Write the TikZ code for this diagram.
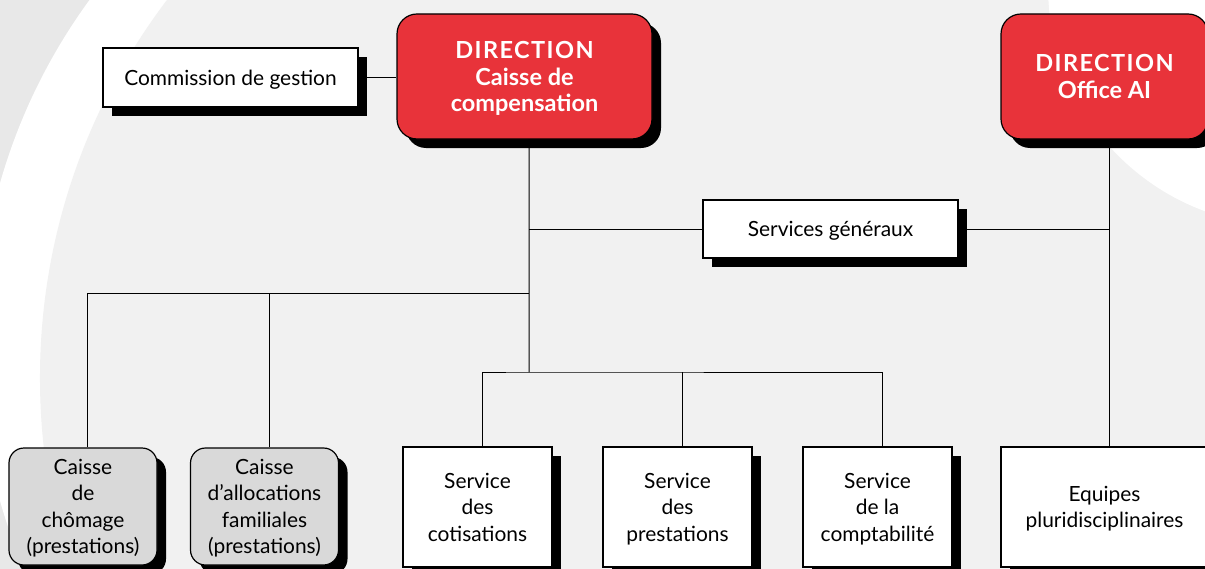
\documentclass[tikz,border=0pt]{standalone}
\usepackage{fontspec}
\setmainfont{Lato}
\usetikzlibrary{shadows}
\definecolor{dirred}{HTML}{E8333A}
\definecolor{bglight}{HTML}{F1F1F1}
\definecolor{bgdark}{HTML}{E8E8E8}
\definecolor{caissegray}{HTML}{D9D9D9}
\tikzset{
  orgnode/.style = {align=center, inner sep=0pt, text centered, text depth=0pt,
    font=\fontsize{10.5}{13.3}\selectfont, draw=black, line width=0.6pt,
    drop shadow={shadow xshift=4.5bp, shadow yshift=-4.5bp, fill=black, opacity=1}},
  dir_r/.style = {orgnode, rounded corners=10bp, fill=dirred, text=white,
    font=\fontsize{11.8}{13.3}\selectfont\bfseries, minimum height=62.5bp},% direction, rouge
  box_w/.style = {orgnode, fill=white, minimum height=60bp},% service, blanc
  box_g/.style = {orgnode, rounded corners=7.5bp, fill=caissegray,
    minimum width=74bp, minimum height=58.5bp},% caisse, gris
  side_w/.style = {orgnode, fill=white, minimum width=127.5bp, minimum height=29.5bp},% boite laterale
  link/.style = {line width=0.5pt}
}
\newcommand{\dirtitle}{{\addfontfeature{LetterSpace=6}DIRECTION}}

\begin{document}
\begin{tikzpicture}[x=0.5bp, y=-0.5bp]
  \useasboundingbox (0,0) rectangle (1205,569);
  \clip (0,0) rectangle (1205,569);
  % fond
  \fill[bgdark] (0,0) rectangle (1205,569);
  \fill[white] (558,342) circle[radius=290bp];
  \fill[bglight] (666,378) circle[radius=313bp];
  \fill[white] (1288,-14) circle[radius=120bp];

  % directions
  \node [dir_r, minimum width=127.5bp] (dircc) at (524.5,76.5) {\dirtitle\\Caisse de\\compensation};
  \node [dir_r, minimum width=103.5bp] (dirai) at (1104.5,76.5) {\dirtitle\\Office AI};
  \node [side_w] (comm) at (230.5,77.5) {Commission de gestion};
  \node [side_w, minimum height=29bp] (sg) at (830.5,229) {Services généraux};

  % niveau du bas
  \node [box_g] (chom) at (83,506.5) {Caisse\\de\\chômage\\(prestations)};
  \node [box_g] (caf) at (264.5,506.5) {Caisse\\d’allocations\\familiales\\(prestations)};
  \node [box_w, minimum width=74.5bp] (cotis) at (477.5,507) {Service\\des\\cotisations};
  \node [box_w, minimum width=74.5bp] (prest) at (677.5,507) {Service\\des\\prestations};
  \node [box_w, minimum width=74.5bp] (compta) at (877.5,507) {Service\\de la\\comptabilité};
  \node [box_w, minimum width=103.5bp] (equipes) at (1104.5,507) {Equipes\\pluridisciplinaires};

  \coordinate (bus1) at (529,293);
  \coordinate (bus2) at (529,372);
  \coordinate (aix) at ([xshift=2.25bp]dirai.south);

  \draw [link] (comm.east) -- (comm.east -| dircc.west);
  \draw [link] ([xshift=2.25bp]dircc.south) -- (bus2);
  \draw [link] (sg.west) -- (sg.west -| bus2);
  \draw [link] (sg.east) -- (sg.east -| aix);
  \draw [link] (aix) -- ([xshift=2.25bp]equipes.north);
  \draw [link] ([xshift=2.25bp]chom.north) |- (bus1);
  \draw [link] ([xshift=2.25bp]caf.north) -- ([xshift=2.25bp]caf.north |- bus1);
  \draw [link] ([xshift=2.25bp]cotis.north) |- (bus2) -| ([xshift=2.25bp]compta.north);
  \draw [link] ([xshift=2.25bp]prest.north) -- ([xshift=2.25bp]prest.north |- bus2);
\end{tikzpicture}
\end{document}
